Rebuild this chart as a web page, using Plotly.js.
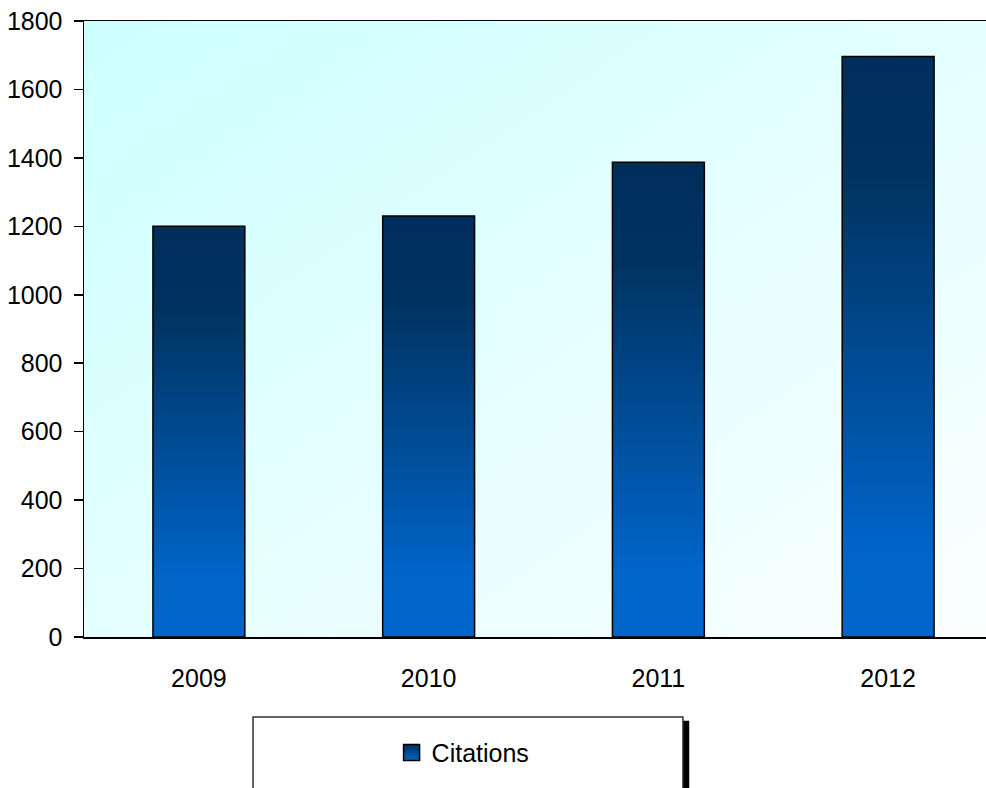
<!DOCTYPE html>
<html>
<head>
<meta charset="utf-8">
<script src="https://cdn.plot.ly/plotly-3.0.1.min.js"></script>
<style>
html,body{margin:0;padding:0;background:#fff;overflow:hidden;}
#chart{width:986px;height:788px;}
</style>
</head>
<body>
<div id="chart"></div>
<script>
// Data
const years = ['2009', '2010', '2011', '2012'];
const citations = [1200, 1230, 1387, 1696];
const seriesName = 'Citations';
const yTicks = [0, 200, 400, 600, 800, 1000, 1200, 1400, 1600, 1800];

const trace = {
  type: 'bar',
  x: years,
  y: citations,
  name: seriesName,
  showlegend: true,
  marker: {color: '#0058b0', line: {color: '#000000', width: 1.5}},
  hoverinfo: 'x+y'
};

const FONT = 'Liberation Sans, Arial, sans-serif';

const layout = {
  width: 986,
  height: 788,
  margin: {l: 84, r: 0, t: 21, b: 151, pad: 0},
  paper_bgcolor: '#ffffff',
  plot_bgcolor: '#e6ffff',
  font: {family: FONT, size: 25, color: '#000000'},
  bargap: 0.6,
  showlegend: true,
  xaxis: {
    type: 'category',
    range: [-0.5, 3.426],
    showline: true,
    linecolor: '#000000',
    linewidth: 1.5,
    mirror: true,
    ticks: '',
    ticklabelstandoff: 18,
    showgrid: false,
    zeroline: false,
    tickfont: {family: FONT, size: 25, color: '#000000'},
    fixedrange: true
  },
  yaxis: {
    range: [0, 1800],
    tickvals: yTicks,
    ticktext: yTicks.map(String),
    showline: true,
    linecolor: '#000000',
    linewidth: 1.5,
    ticks: 'outside',
    ticklen: 9,
    tickwidth: 1.5,
    tickcolor: '#000000',
    ticklabelstandoff: 6,
    showgrid: false,
    zeroline: false,
    tickfont: {family: FONT, size: 25, color: '#000000'},
    fixedrange: true
  },
  legend: {
    x: 0.341,
    xanchor: 'left',
    y: -0.188,
    yanchor: 'middle',
    bgcolor: 'rgba(0,0,0,0)',
    borderwidth: 0,
    font: {family: FONT, size: 25, color: '#000000'}
  },
  shapes: [
    {type: 'rect', xref: 'paper', yref: 'paper', x0: 0.664, x1: 0.671, y0: -0.136, y1: -0.35,
     fillcolor: '#000000', line: {width: 0}, layer: 'above'},
    {type: 'rect', xref: 'paper', yref: 'paper', x0: 0.1874, x1: 0.664, y0: -0.1299, y1: -0.35,
     fillcolor: '#ffffff', line: {color: '#333333', width: 1.5}, layer: 'above'}
  ]
};

Plotly.newPlot('chart', [trace], layout, {displayModeBar: false, staticPlot: true}).then(function (gd) {
  const NS = 'http://www.w3.org/2000/svg';
  const svg = gd.querySelector('svg.main-svg');
  let defs = svg.querySelector('defs');
  if (!defs) { defs = document.createElementNS(NS, 'defs'); svg.insertBefore(defs, svg.firstChild); }

  function grad(id, x1, y1, x2, y2, stops) {
    const g = document.createElementNS(NS, 'linearGradient');
    g.setAttribute('id', id);
    g.setAttribute('x1', x1); g.setAttribute('y1', y1);
    g.setAttribute('x2', x2); g.setAttribute('y2', y2);
    stops.forEach(function (s) {
      const st = document.createElementNS(NS, 'stop');
      st.setAttribute('offset', s[0]);
      st.setAttribute('stop-color', s[1]);
      g.appendChild(st);
    });
    defs.appendChild(g);
  }
  grad('barGrad', '0', '0', '0', '1', [[0, '#002e5c'], [0.2, '#00325f'], [0.85, '#0064c8'], [1, '#0066cc']]);
  grad('bgGrad', '0', '0', '1', '1', [[0, '#ccffff'], [0.5, '#e4ffff'], [1, '#fafffe']]);
  grad('legGrad', '0', '0', '0', '1', [[0, '#002e5c'], [1, '#0066cc']]);

  gd.querySelectorAll('.barlayer .point path').forEach(function (p) {
    p.style.fill = 'url(#barGrad)';
  });
  gd.querySelectorAll('rect.bg').forEach(function (r) {
    r.style.fill = 'url(#bgGrad)';
  });
  gd.querySelectorAll('.legend .legendpoints path').forEach(function (p) {
    p.style.fill = 'url(#legGrad)';
    p.setAttribute('d', 'M8,8H-8V-8H8Z');
  });
});
</script>
</body>
</html>
